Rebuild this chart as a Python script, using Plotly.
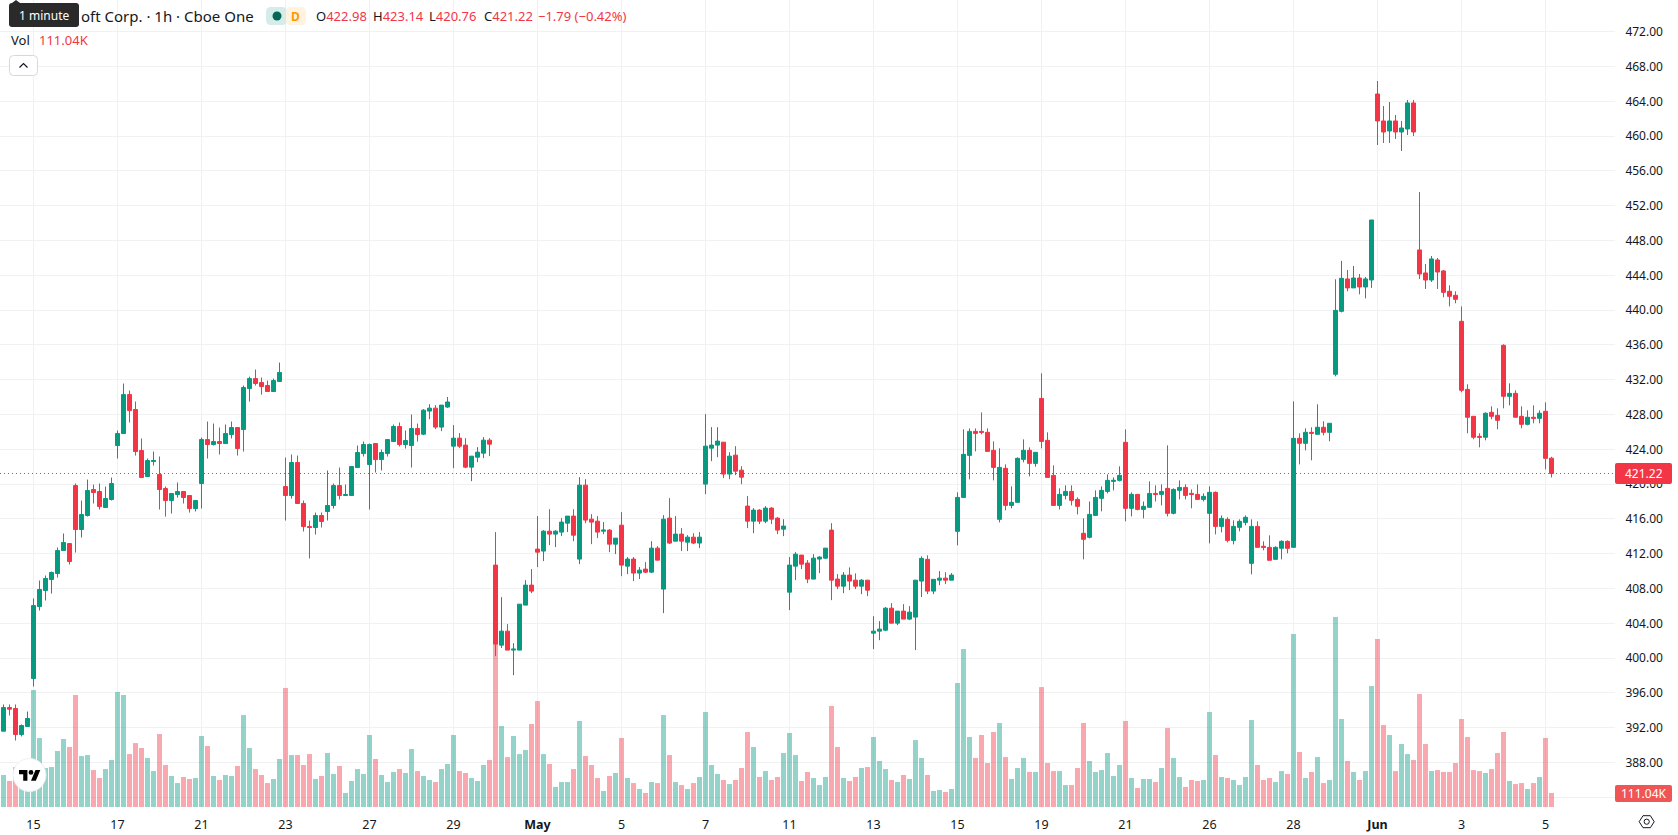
import plotly.graph_objects as go

# Hourly session data, oldest bar first
opens = [
    391.60, 394.32, 394.21, 391.22, 392.14, 397.65, 405.93, 407.77, 409.03, 409.72,
    412.36, 413.17, 419.83, 414.78, 416.39, 419.38, 419.15, 417.31, 418.23, 424.43,
    425.81, 430.29, 428.57, 423.86, 420.87, 422.59, 421.10, 419.49, 418.11, 418.80,
    419.15, 418.69, 417.19, 420.07, 425.12, 424.55, 424.89, 424.66, 425.70, 426.50,
    426.27, 430.98, 432.13, 431.67, 431.33, 430.64, 431.79, 419.72, 418.69, 422.48,
    417.77, 415.12, 415.01, 416.39, 416.85, 417.54, 419.83, 418.69, 418.69, 421.90,
    423.51, 422.25, 424.66, 422.82, 423.51, 424.89, 426.62, 424.55, 424.43, 426.39,
    425.74, 428.39, 428.73, 426.55, 428.86, 424.36, 425.28, 424.48, 421.95, 423.10,
    423.56, 425.05, 410.69, 401.49, 403.10, 400.92, 400.92, 406.09, 408.39, 412.53,
    412.30, 414.59, 414.25, 414.48, 415.51, 416.32, 411.38, 419.88, 415.97, 415.74,
    414.59, 414.71, 413.10, 415.28, 410.57, 411.38, 409.77, 410.23, 409.88, 412.64,
    407.93, 416.09, 413.44, 414.25, 413.33, 413.90, 413.22, 420.00, 424.13, 424.48,
    424.82, 421.15, 423.33, 421.60, 417.47, 415.74, 417.01, 415.74, 417.24, 416.09,
    414.82, 407.58, 410.57, 411.84, 410.92, 409.08, 411.38, 411.49, 414.71, 409.08,
    408.27, 409.54, 408.96, 408.27, 408.96, 402.87, 403.10, 403.21, 405.74, 404.02,
    405.40, 404.48, 404.71, 408.85, 411.35, 407.70, 408.96, 409.19, 408.96, 414.57,
    418.47, 423.30, 426.06, 426.06, 425.95, 423.88, 415.95, 421.81, 417.55, 417.90,
    422.84, 423.88, 422.38, 429.85, 425.03, 421.00, 417.55, 418.70, 419.16, 418.24,
    414.34, 413.88, 416.40, 418.36, 419.16, 420.31, 420.43, 424.80, 417.21, 418.82,
    417.09, 417.33, 418.93, 418.82, 419.51, 416.64, 419.28, 419.62, 418.93, 418.82,
    418.24, 416.64, 419.05, 415.14, 415.95, 413.53, 415.03, 415.60, 410.89, 415.14,
    412.85, 412.73, 411.35, 412.62, 413.42, 412.73, 425.26, 424.69, 425.95, 425.72,
    426.53, 425.95, 432.62, 439.86, 443.58, 442.55, 443.69, 442.66, 443.46, 464.84,
    461.74, 460.59, 461.74, 460.47, 460.82, 463.81, 446.91, 444.27, 443.46, 445.76,
    444.50, 442.16, 441.70, 438.71, 430.89, 427.79, 425.49, 425.38, 428.25, 427.90,
    435.95, 430.09, 430.43, 427.79, 426.87, 427.68, 427.56, 428.37, 422.98,
]
highs = [
    394.67, 394.67, 394.67, 392.37, 393.86, 406.85, 408.92, 409.49, 409.95, 412.71,
    414.32, 413.17, 420.07, 418.11, 420.52, 419.95, 420.07, 419.72, 420.75, 426.16,
    431.56, 430.75, 429.49, 425.24, 422.94, 423.74, 423.17, 419.72, 418.92, 420.18,
    419.15, 418.69, 418.11, 425.35, 427.19, 426.96, 426.50, 426.85, 427.19, 426.50,
    431.33, 432.36, 433.17, 432.25, 431.90, 432.13, 433.97, 423.05, 423.40, 423.28,
    418.11, 415.81, 416.73, 416.73, 421.56, 420.07, 421.90, 419.95, 422.02, 424.43,
    424.89, 424.66, 424.66, 423.97, 425.12, 426.85, 427.08, 426.16, 428.00, 426.96,
    428.62, 429.19, 429.08, 429.08, 430.01, 426.78, 425.86, 425.28, 423.21, 424.25,
    425.40, 425.28, 414.48, 407.01, 403.91, 401.72, 406.20, 408.96, 410.23, 416.32,
    414.71, 417.12, 414.71, 416.09, 416.32, 417.12, 420.80, 420.57, 416.55, 416.32,
    415.63, 414.82, 413.79, 416.78, 411.61, 411.61, 410.46, 411.03, 413.44, 412.87,
    416.43, 418.39, 416.32, 414.94, 414.13, 414.36, 414.48, 428.04, 426.55, 426.55,
    424.82, 423.67, 424.36, 422.06, 418.62, 417.24, 417.12, 417.47, 417.35, 416.20,
    415.97, 411.61, 412.18, 411.84, 411.26, 411.95, 411.72, 412.64, 415.51, 409.65,
    409.88, 410.43, 409.74, 409.08, 408.96, 404.82, 404.25, 405.86, 406.32, 405.40,
    406.20, 405.97, 408.96, 411.69, 411.81, 409.05, 410.00, 409.88, 409.77, 419.05,
    426.29, 426.40, 426.40, 428.24, 426.40, 424.91, 424.11, 422.27, 419.74, 423.07,
    425.14, 424.22, 423.65, 432.73, 425.95, 422.15, 419.51, 419.85, 419.85, 418.47,
    416.06, 418.00, 419.28, 419.74, 421.12, 420.77, 422.04, 426.29, 419.05, 418.82,
    418.00, 420.31, 419.85, 419.97, 424.45, 419.51, 420.43, 419.97, 419.39, 419.97,
    418.93, 419.74, 419.16, 416.40, 416.18, 415.83, 415.95, 416.40, 415.95, 415.72,
    413.42, 414.11, 412.85, 413.54, 413.54, 429.51, 425.84, 426.41, 426.53, 429.17,
    427.22, 426.99, 443.54, 445.65, 444.61, 445.07, 444.15, 443.81, 450.36, 466.34,
    463.46, 463.92, 462.43, 461.74, 464.15, 464.15, 453.58, 445.30, 446.22, 445.99,
    444.61, 442.85, 442.16, 440.43, 431.47, 427.79, 425.84, 428.25, 428.94, 428.71,
    436.07, 431.58, 430.78, 428.94, 428.48, 429.05, 428.48, 429.40, 423.14,
]
lows = [
    391.60, 393.40, 390.53, 391.00, 392.14, 396.73, 405.47, 406.62, 407.42, 409.26,
    412.36, 410.76, 412.13, 413.86, 416.27, 417.77, 417.08, 417.31, 418.11, 422.94,
    425.81, 427.08, 423.28, 420.75, 420.87, 422.13, 417.08, 416.27, 416.62, 418.46,
    417.77, 416.73, 416.85, 417.19, 422.94, 424.43, 423.40, 424.66, 425.24, 423.28,
    423.74, 429.49, 431.33, 430.29, 430.64, 430.64, 431.79, 415.81, 418.34, 417.77,
    414.55, 411.45, 414.20, 415.01, 415.81, 417.19, 418.23, 418.69, 418.69, 421.90,
    423.17, 417.08, 421.33, 421.56, 423.17, 424.89, 424.32, 424.09, 421.90, 424.89,
    425.63, 427.47, 426.32, 426.09, 428.75, 421.83, 424.13, 421.83, 420.34, 422.52,
    422.98, 423.21, 400.23, 401.15, 400.92, 398.04, 400.92, 406.09, 407.47, 410.46,
    411.15, 412.98, 412.76, 414.02, 414.48, 413.44, 410.80, 415.51, 413.10, 413.79,
    414.25, 412.18, 411.95, 409.42, 409.65, 408.85, 409.08, 409.77, 409.77, 411.26,
    405.17, 413.10, 413.44, 412.30, 412.30, 413.10, 412.64, 418.85, 422.64, 423.10,
    420.69, 420.57, 421.03, 419.99, 414.94, 414.36, 415.40, 415.51, 415.40, 414.25,
    414.02, 405.51, 408.96, 410.23, 408.62, 409.08, 409.77, 411.38, 406.66, 407.93,
    407.47, 407.81, 407.93, 407.35, 407.12, 401.03, 402.06, 403.10, 404.02, 403.79,
    404.48, 404.36, 400.92, 407.01, 407.35, 407.35, 408.39, 408.50, 408.96, 412.96,
    418.47, 420.54, 423.76, 425.72, 423.76, 420.43, 415.60, 416.98, 417.21, 417.90,
    422.50, 420.89, 422.00, 424.11, 420.77, 417.55, 417.09, 418.24, 417.55, 416.52,
    411.35, 413.76, 416.40, 416.87, 418.93, 419.28, 420.31, 415.72, 416.29, 416.98,
    416.06, 417.33, 418.00, 417.55, 416.29, 416.52, 418.24, 418.24, 417.21, 418.24,
    418.00, 413.19, 414.22, 414.45, 413.30, 413.07, 414.57, 415.26, 409.63, 412.73,
    412.39, 411.24, 411.35, 411.35, 412.04, 412.73, 422.27, 423.88, 422.73, 425.72,
    425.61, 424.92, 432.39, 439.74, 442.16, 442.55, 441.81, 441.35, 442.55, 458.98,
    459.21, 459.21, 459.67, 458.29, 460.13, 460.01, 443.58, 442.43, 443.24, 442.43,
    441.47, 440.43, 440.78, 430.55, 425.84, 425.15, 424.23, 425.03, 427.45, 426.30,
    428.71, 429.05, 427.68, 426.41, 426.76, 426.99, 426.99, 421.70, 420.76,
]
closes = [
    394.32, 394.13, 391.22, 392.25, 393.06, 406.04, 407.88, 409.15, 409.84, 412.36,
    413.28, 411.10, 414.78, 416.50, 419.26, 419.03, 417.42, 418.34, 420.07, 425.81,
    430.29, 428.45, 423.74, 420.75, 422.71, 422.71, 419.38, 418.11, 418.92, 419.15,
    418.46, 417.19, 418.11, 425.12, 424.55, 424.89, 424.66, 425.81, 426.50, 424.09,
    431.10, 432.13, 431.56, 431.21, 430.64, 431.90, 432.82, 418.69, 422.48, 417.77,
    415.12, 415.01, 416.39, 415.70, 417.54, 419.83, 418.69, 418.80, 422.02, 423.63,
    424.55, 424.55, 422.82, 423.63, 425.12, 426.62, 424.55, 425.01, 426.39, 425.70,
    428.50, 428.73, 426.55, 429.08, 429.44, 425.28, 424.36, 421.95, 423.21, 423.67,
    425.05, 424.59, 401.61, 403.10, 400.92, 401.03, 406.20, 408.39, 407.70, 412.18,
    414.59, 414.25, 414.59, 415.63, 416.32, 414.13, 419.88, 415.86, 415.63, 414.48,
    414.71, 413.10, 413.79, 410.69, 411.38, 409.77, 410.11, 409.88, 412.64, 411.26,
    415.97, 413.22, 414.25, 413.44, 413.90, 413.22, 413.90, 424.36, 424.48, 424.94,
    421.15, 423.21, 421.49, 420.80, 415.74, 417.01, 415.74, 417.24, 415.97, 414.71,
    415.17, 410.69, 411.95, 410.80, 409.08, 411.49, 411.61, 412.64, 408.96, 408.27,
    409.54, 408.85, 408.27, 408.96, 407.81, 403.10, 403.33, 405.74, 404.02, 405.40,
    404.48, 405.28, 408.96, 411.46, 407.70, 409.05, 409.19, 408.96, 409.54, 418.47,
    423.42, 426.06, 425.83, 425.95, 423.76, 421.92, 421.92, 417.55, 417.90, 422.96,
    423.88, 422.38, 423.65, 424.91, 420.77, 417.55, 418.82, 419.16, 418.13, 417.44,
    413.65, 416.52, 418.47, 419.28, 420.43, 420.43, 421.00, 417.21, 418.82, 417.09,
    417.44, 418.93, 418.82, 419.16, 416.64, 419.39, 419.62, 418.70, 418.82, 418.24,
    418.59, 419.05, 415.14, 416.06, 413.53, 415.14, 415.72, 416.18, 415.14, 412.73,
    412.73, 411.24, 412.73, 413.42, 412.62, 425.26, 424.69, 425.95, 425.84, 426.53,
    425.95, 426.99, 439.97, 443.65, 442.55, 443.69, 442.66, 443.58, 450.36, 461.74,
    460.47, 461.74, 460.47, 460.93, 463.81, 460.47, 444.15, 443.46, 445.88, 444.38,
    442.04, 441.58, 441.24, 430.78, 427.68, 425.38, 425.38, 428.14, 427.79, 427.33,
    430.09, 430.43, 427.68, 426.87, 427.68, 427.56, 428.14, 422.96, 421.22,
]
# Volume per bar, in thousands of shares
volumes_k = [
    254, 206, 317, 293, 346, 928, 547, 309, 317, 444,
    539, 476, 888, 404, 412, 293, 230, 301, 373, 912,
    888, 420, 507, 468, 389, 285, 579, 333, 246, 190,
    238, 222, 230, 563, 484, 246, 214, 254, 246, 325,
    729, 468, 301, 254, 190, 222, 381, 944, 412, 412,
    333, 420, 222, 246, 428, 262, 325, 111, 206, 301,
    262, 571, 381, 254, 198, 278, 301, 270, 460, 285,
    246, 214, 198, 301, 341, 571, 285, 270, 230, 206,
    333, 373, 1324, 642, 396, 563, 420, 452, 658, 840,
    420, 341, 159, 198, 198, 301, 682, 404, 333, 230,
    127, 246, 270, 547, 230, 190, 143, 111, 198, 190,
    729, 412, 198, 174, 143, 190, 238, 753, 333, 262,
    214, 182, 214, 309, 595, 476, 238, 285, 214, 238,
    428, 587, 412, 206, 278, 230, 174, 238, 801, 476,
    230, 206, 238, 309, 317, 555, 365, 301, 214, 198,
    254, 222, 531, 389, 254, 127, 135, 119, 143, 983,
    1253, 555, 389, 571, 349, 595, 666, 396, 222, 309,
    389, 278, 278, 951, 349, 285, 285, 174, 174, 309,
    666, 365, 278, 293, 428, 246, 333, 682, 230, 151,
    222, 222, 198, 309, 626, 389, 238, 159, 214, 206,
    214, 753, 412, 238, 230, 214, 174, 238, 690, 333,
    214, 230, 198, 285, 262, 1372, 436, 230, 278, 396,
    190, 214, 1507, 698, 365, 278, 214, 285, 959, 1332,
    650, 571, 285, 500, 420, 373, 896, 500, 285, 293,
    278, 278, 349, 698, 555, 293, 285, 270, 301, 428,
    595, 206, 182, 190, 143, 190, 238, 547, 111.04,
]
for series in (highs, lows, closes, volumes_k):
    if len(series) != len(opens):
        raise ValueError(f"series length {len(series)} != {len(opens)}")

bar_index = list(range(len(opens)))
date_tick_bars = [5, 19, 33, 47, 61, 75, 89, 103, 117, 131, 145, 159, 173, 187, 201, 215, 229, 243, 257]
date_tick_labels = ["15", "17", "21", "23", "27", "29", "<b>May</b>", "5", "7", "11", "13", "15",
                    "19", "21", "26", "28", "<b>Jun</b>", "3", "5"]
price_ticks = list(range(384, 476, 4))
last_open, last_high, last_low, last_close = opens[-1], highs[-1], lows[-1], closes[-1]
prev_close = 423.01
last_volume_k = volumes_k[-1]

UP = "#089981"
DOWN = "#f23645"
UP_VOL = "rgba(8,153,129,0.43)"
DOWN_VOL = "rgba(242,54,69,0.43)"
GRID = "#f0f1f3"
INK = "#131722"
FONT = "Noto Sans"

WIDTH, HEIGHT = 1678, 835
PANE_W, PANE_H = 1615, 808


def px(x, y):
    """Window pixel to paper coordinates of the price pane."""
    return x / PANE_W, 1 - y / PANE_H


def path(points, close=True):
    parts = []
    for k, (x, y) in enumerate(points):
        u, v = px(x, y)
        parts.append(f"{'M' if k == 0 else 'L'}{u:.5f},{v:.5f}")
    return " ".join(parts) + (" Z" if close else "")


def rounded(x0, y0, x1, y1, r):
    a, b = px(x0 + r, y0)
    c, d = px(x1 - r, y0)
    e, f = px(x1, y0 + r)
    g, h = px(x1, y1 - r)
    i, j = px(x1 - r, y1)
    k, l = px(x0 + r, y1)
    m, n = px(x0, y1 - r)
    o, p = px(x0, y0 + r)
    cx0, cy0 = px(x0, y0)
    cx1, cy1 = px(x1, y1)
    return (f"M{a},{b} L{c},{d} Q{cx1},{cy0} {e},{f} L{g},{h} Q{cx1},{cy1} {i},{j} "
            f"L{k},{l} Q{cx0},{cy1} {m},{n} L{o},{p} Q{cx0},{cy0} {a},{b} Z")


def rect_shape(x0, y0, x1, y1, fill, r=0, line=None):
    return dict(type="path", xref="paper", yref="paper", path=rounded(x0, y0, x1, y1, r) if r else
                path([(x0, y0), (x1, y0), (x1, y1), (x0, y1)]),
                fillcolor=fill, line=dict(color=line or fill, width=1 if line else 0), layer="above")


def circle_shape(cx, cy, r, fill, line=None, width=0):
    u0, v0 = px(cx - r, cy - r)
    u1, v1 = px(cx + r, cy + r)
    return dict(type="circle", xref="paper", yref="paper", x0=u0, y0=v0, x1=u1, y1=v1,
                fillcolor=fill, line=dict(color=line or fill, width=width), layer="above")


def label(x, y, text, size=13, color=INK, anchor="left"):
    u, v = px(x, y)
    return dict(xref="paper", yref="paper", x=u, y=v, text=text, showarrow=False,
                xanchor=anchor, yanchor="middle", align=anchor,
                font=dict(family=FONT, size=size, color=color))


def red(text):
    return f'<span style="color:{DOWN}">{text}</span>'


fig = go.Figure()

vol_colors = [UP_VOL if c >= o else DOWN_VOL for o, c in zip(opens, closes)]
fig.add_trace(go.Bar(x=bar_index, y=volumes_k, marker=dict(color=vol_colors, line=dict(width=0)),
                     width=5 / 6, yaxis="y", hoverinfo="skip"))
fig.add_trace(go.Candlestick(
    x=bar_index, open=opens, high=highs, low=lows, close=closes, yaxis="y2", whiskerwidth=0,
    increasing=dict(line=dict(color=UP, width=1), fillcolor=UP),
    decreasing=dict(line=dict(color=DOWN, width=1), fillcolor=DOWN),
))

# Pane furniture: price line, header tooltip, status pill, buttons, badges, logo
logo_x, logo_y, logo_s = 19.0, 767.6, 0.6
logo_t = [(0, 4), (14, 4), (14, 22), (7, 22), (7, 11), (0, 11)]
logo_v = [(27.5, 4), (35.5, 4), (28, 22), (20, 22)]
hex_cx, hex_cy = 1646.7, 821.7
shapes = [
    dict(type="line", xref="paper", yref="y2", x0=0, x1=1, y0=last_close, y1=last_close,
         line=dict(color=DOWN, width=1, dash="1px,3px"), layer="above"),
    rect_shape(9, 3, 79, 27, "#2a2a2a", r=3),
    path and dict(type="path", xref="paper", yref="paper", fillcolor="#2a2a2a", line=dict(width=0),
                  layer="above", path=path([(12, 3), (16, 0), (20, 3)])),
    rect_shape(266, 7, 287, 25, "#d5ece8", r=5),
    rect_shape(286, 7, 306, 25, "#fff3e0", r=5),
    circle_shape(277, 16, 4.5, "#056656"),
    rect_shape(9.5, 55.5, 37.5, 75.5, "#ffffff", r=4, line="#d6d8df"),
    dict(type="path", xref="paper", yref="paper", layer="above", line=dict(color=INK, width=1.2),
         path=path([(19.5, 67.5), (23.5, 63.5), (27.5, 67.5)], close=False)),
    rect_shape(1615, 463, 1672, 484, DOWN, r=2),
    rect_shape(1615, 785, 1672, 802, "#f05555", r=2),
    circle_shape(29.5, 775, 16.5, "#ffffff", line="#eef0f3", width=1),
    dict(type="path", xref="paper", yref="paper", fillcolor="#000000", line=dict(width=0), layer="above",
         path=path([(logo_x + a * logo_s, logo_y + b * logo_s) for a, b in logo_t])),
    dict(type="path", xref="paper", yref="paper", fillcolor="#000000", line=dict(width=0), layer="above",
         path=path([(logo_x + a * logo_s, logo_y + b * logo_s) for a, b in logo_v])),
    circle_shape(logo_x + 20 * logo_s, logo_y + 8 * logo_s, 4 * logo_s, "#000000"),
    dict(type="path", xref="paper", yref="paper", layer="above", line=dict(color=INK, width=1),
         path=path([(hex_cx - 7.5, hex_cy), (hex_cx - 3.7, hex_cy - 6), (hex_cx + 3.7, hex_cy - 6),
                    (hex_cx + 7.5, hex_cy), (hex_cx + 3.7, hex_cy + 6), (hex_cx - 3.7, hex_cy + 6)])),
    circle_shape(hex_cx, hex_cy, 2.6, "rgba(0,0,0,0)", line=INK, width=1),
]

change = last_close - prev_close
annotations = [
    label(79, 16, "oft Corp. · 1h · Cboe One", size=15),
    label(44, 15, "1 minute", size=12, color="#ffffff", anchor="center"),
    label(295.5, 16, "<b>D</b>", size=12, color="#ff9800", anchor="center"),
    label(314, 16, f"O{red(f'{last_open:.2f}')}"),
    label(371, 16, f"H{red(f'{last_high:.2f}')}"),
    label(427, 16, f"L{red(f'{last_low:.2f}')}"),
    label(481.5, 16, f"C{red(f'{last_close:.2f}')}"),
    label(535.5, 16, red(f"−{abs(change):.2f} (−{abs(change) / prev_close * 100:.2f}%)")),
    label(9, 40.5, "Vol", size=13),
    label(36.5, 40.5, red(f"{last_volume_k:.2f}K"), size=13),
    label(1643.5, 473, f"{last_close:.2f}", size=12, color="#ffffff", anchor="center"),
    label(1643.5, 793.5, f"{last_volume_k:.2f}K", size=12, color="#ffffff", anchor="center"),
]

# One bar occupies 6 px; the first bar centre sits at 3.5 px
x_min = -3.5 / 6
x_max = (PANE_W - 3.5) / 6
price_at = lambda y: 464 - (y - 101.3) / 8.7
vol_per_px = 7.93

fig.update_layout(
    width=WIDTH, height=HEIGHT,
    margin=dict(l=0, r=WIDTH - PANE_W, t=0, b=HEIGHT - PANE_H, pad=0),
    paper_bgcolor="#ffffff", plot_bgcolor="#ffffff",
    showlegend=False, dragmode=False, boxgap=0.3333, boxgroupgap=0,
    font=dict(family=FONT, size=12, color=INK),
    xaxis=dict(range=[x_min, x_max], tickmode="array", tickvals=date_tick_bars, ticktext=date_tick_labels,
               showgrid=True, gridcolor=GRID, gridwidth=1, zeroline=False, showline=False,
               ticks="outside", ticklen=5, tickcolor="rgba(0,0,0,0)", rangeslider=dict(visible=False),
               tickfont=dict(family=FONT, size=12.5, color=INK), tickangle=0),
    yaxis=dict(range=[-1 * vol_per_px, 807 * vol_per_px], visible=False, showgrid=False, zeroline=False,
               fixedrange=True),
    yaxis2=dict(overlaying="y", side="right", range=[price_at(PANE_H), price_at(0)], tickmode="array",
                tickvals=price_ticks, ticktext=["" if v == 384 else f"{v:.2f}" for v in price_ticks],
                showgrid=True, gridcolor=GRID, gridwidth=1, zeroline=False, showline=False,
                ticks="outside", ticklen=7, tickcolor="rgba(0,0,0,0)",
                tickfont=dict(family=FONT, size=12, color=INK)),
    shapes=shapes, annotations=annotations,
)

fig.write_html("out.html", config={"displayModeBar": False})
